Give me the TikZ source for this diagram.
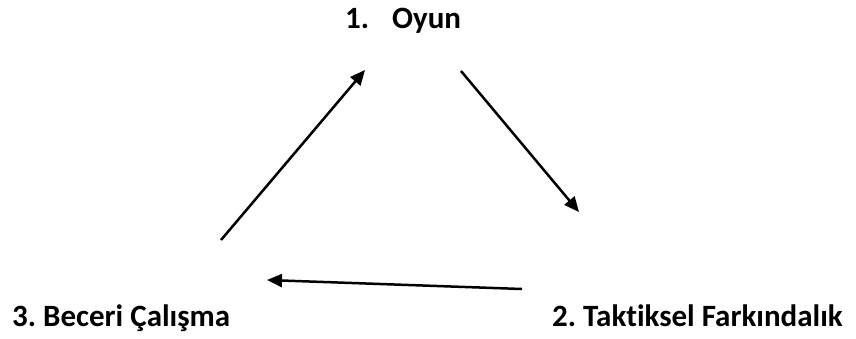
\documentclass[tikz,border=0pt]{standalone}
\usepackage{fontspec}
\setmainfont[Ligatures=NoCommon]{Carlito}
\usetikzlibrary{arrows.meta}
\frenchspacing
\begin{document}
\begin{tikzpicture}[x=1pt,y=-1pt,
  lbl/.style={anchor=base west,inner sep=0pt,font=\bfseries\fontsize{31}{36}\selectfont},
  conn/.style={line width=2.5pt,-{Triangle[length=15pt,width=13pt]}}]
\useasboundingbox (0,0) rectangle (856,338);
\node[lbl] (oyun) at (345,28) {1.\hspace{23pt}Oyun};
\node[lbl] (beceri) at (12,326) {3. Beceri Çalışma};
\node[lbl] (taktik) at (552,326) {2. Taktiksel Farkındalık};
\coordinate (a1s) at (461,71);
\coordinate (a1e) at (579,212);
\coordinate (a2s) at (522,289);
\coordinate (a2e) at (267,280);
\coordinate (a3s) at (221,240);
\coordinate (a3e) at (365,70);
\draw[conn] (a1s) -- (a1e);
\draw[conn] (a2s) -- (a2e);
\draw[conn] (a3s) -- (a3e);
\end{tikzpicture}
\end{document}
